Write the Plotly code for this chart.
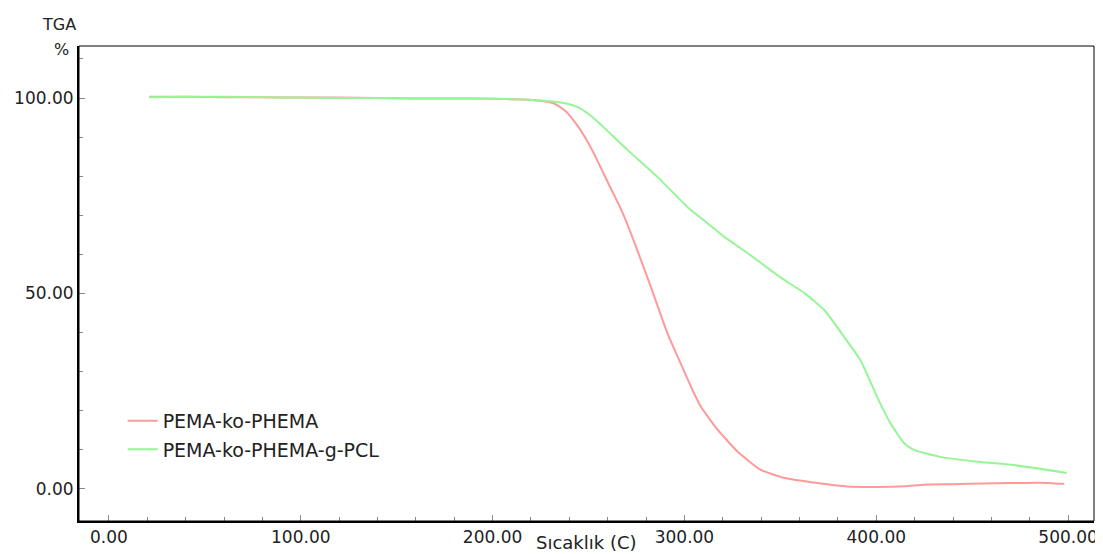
import plotly.graph_objects as go

# Data
temp_red = [21, 40, 60, 80, 100, 120, 140, 160, 180, 200, 215, 225, 232, 238,
            244.7, 250, 255, 260.3, 267, 272, 277, 283, 291, 300.3, 304.5,
            308.6, 317.4, 327.8, 339.7, 352.2, 369.4, 385, 400, 415, 425, 440,
            455, 470, 485, 498]
mass_red = [100.3, 100.3, 100.2, 100.2, 100.1, 100.1, 100.0, 99.9, 99.9, 99.8,
            99.6, 99.3, 98.6, 96.7, 92.6, 88.4, 83.6, 78.2, 71.5, 65.5, 59.0,
            51.0, 40.0, 29.6, 25.0, 21.0, 15.1, 9.5, 4.9, 2.8, 1.5, 0.6, 0.5,
            0.7, 1.1, 1.2, 1.4, 1.5, 1.6, 1.3]

temp_green = [21, 40, 60, 80, 100, 120, 140, 160, 180, 200, 215, 228, 237,
              244.7, 250, 255.1, 262, 270.6, 286.2, 301.8, 312.2, 321, 333,
              350.1, 362.6, 373, 383.4, 391.7, 400.5, 407.3, 414.5, 419.7,
              433.2, 454, 471.7, 499.2]
mass_green = [100.2, 100.3, 100.3, 100.2, 100.1, 100.0, 100.0, 99.9, 99.9,
              99.8, 99.6, 99.2, 98.7, 97.6, 95.9, 93.8, 90.6, 86.6, 79.7, 72.0,
              67.9, 64.4, 60.3, 54.1, 50.1, 45.7, 38.8, 33.0, 23.5, 16.9, 11.7,
              10.0, 8.2, 6.9, 6.1, 4.1]

name_red = "PEMA-ko-PHEMA"
name_green = "PEMA-ko-PHEMA-g-PCL"
x_ticks = [0, 100, 200, 300, 400, 500]
y_ticks = [0, 50, 100]

FONT = "DejaVu Sans"
TXT = "#222222"

fig = go.Figure()
fig.add_trace(go.Scatter(x=temp_red, y=mass_red, mode="lines", name=name_red,
                         legendgroup="a",
                         line=dict(color="#ff9a9a", width=2, shape="spline", smoothing=0.5)))
fig.add_trace(go.Scatter(x=temp_green, y=mass_green, mode="lines", name=name_green,
                         legendgroup="b",
                         line=dict(color="#96f596", width=2, shape="spline", smoothing=0.5)))

# the page body adds an 8px offset, so the figure is 8px smaller on each axis
fig.update_layout(
    width=1095, height=546,
    margin=dict(l=71, r=5, t=38, b=33),
    paper_bgcolor="white", plot_bgcolor="white",
    font=dict(family=FONT, size=17, color=TXT),
    showlegend=True,
    legend=dict(x=0.043, y=0.251, xanchor="left", yanchor="top",
                bgcolor="rgba(0,0,0,0)", font=dict(family=FONT, size=19, color=TXT),
                tracegroupgap=1, traceorder="grouped"),
    xaxis=dict(range=[-15.6, 513.5], tickvals=x_ticks,
               ticktext=[f"{v:.2f}" for v in x_ticks],
               showgrid=False, zeroline=False, showline=True, linecolor="black",
               linewidth=2, ticks="inside", ticklen=6, tickcolor="#888888",
               minor=dict(dtick=20, ticks="inside", ticklen=4, tickcolor="#888888"),
               tickfont=dict(family=FONT, size=17, color=TXT)),
    yaxis=dict(range=[-8.2, 113.3], tickvals=y_ticks,
               ticktext=[f"{v:.2f}" for v in y_ticks],
               showgrid=False, zeroline=False, showline=True, linecolor="black",
               linewidth=2, ticks="inside", ticklen=6, tickcolor="#888888",
               minor=dict(dtick=10, ticks="inside", ticklen=4, tickcolor="#888888"),
               tickfont=dict(family=FONT, size=17, color=TXT)),
)

fig.add_shape(type="rect", xref="paper", yref="paper", x0=0, y0=0, x1=1, y1=1,
              line=dict(color="black", width=1))

fig.add_annotation(text="TGA", xref="paper", yref="paper", x=-0.02, y=1.0,
                   yshift=22, xanchor="center", yanchor="middle", showarrow=False,
                   font=dict(family=FONT, size=16, color=TXT))
fig.add_annotation(text="%", xref="paper", yref="paper", x=-0.008, y=1.0,
                   yshift=-3, xanchor="right", yanchor="middle", showarrow=False,
                   font=dict(family=FONT, size=16, color=TXT))
fig.add_annotation(text="Sıcaklık (C)", xref="paper", yref="paper", x=0.5,
                   y=0, yshift=-21, xanchor="center", yanchor="middle",
                   showarrow=False, font=dict(family=FONT, size=18, color=TXT))

fig.write_html("out.html")
